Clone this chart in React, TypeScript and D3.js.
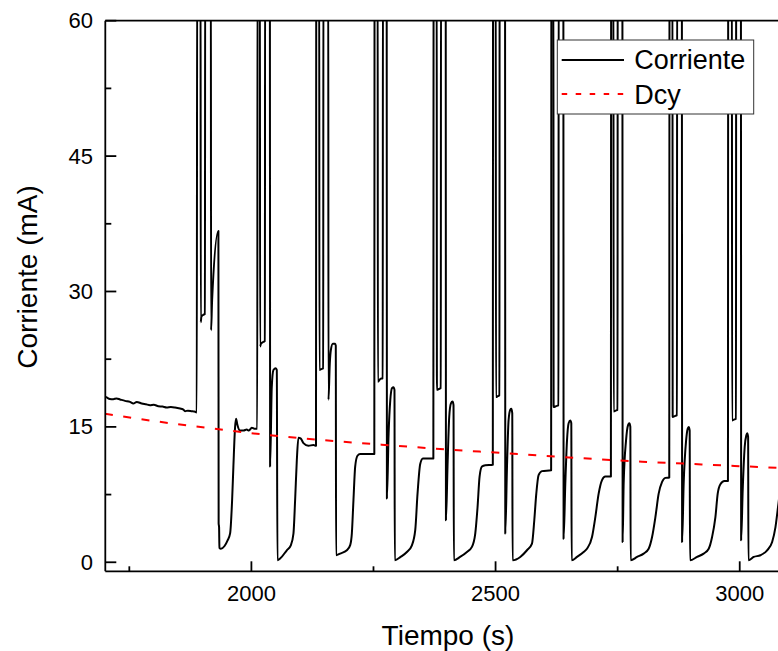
import * as d3 from "d3";
import React, { useRef, useEffect } from "react";

type Pt = [number, number];

// Corriente (mA) vs Tiempo (s); 70 = off the top of the axis
const tramoInicial: Pt[] = [
  [1700, 18.35], [1703.7, 18.26], [1710, 18.1], [1717.2, 18.07], [1724, 18.15], [1730.9, 18.04],
  [1741.2, 17.88], [1751.4, 17.77], [1758.2, 17.59], [1765.2, 17.77], [1775.4, 17.59],
  [1784, 17.5], [1792.4, 17.41], [1800, 17.45], [1809.4, 17.29], [1818, 17.25], [1826.6, 17.15],
  [1835, 17.2], [1843.6, 17.15], [1853.9, 17.04], [1860, 16.95], [1864.1, 16.74],
  [1870, 16.8], [1877.9, 16.74], [1883, 16.7], [1888.1, 16.6],
];

const ciclo1: Pt[] = [
  [1889.0, 70], [1895.8, 70], [1896.3, 26.6], [1897.5, 27.2], [1901, 27.4], [1904.8, 27.5],
  [1905.4, 70], [1916.9, 70], [1917.4, 25.7], [1919.5, 29.0], [1932.4, 36.7], [1932.9, 4.3],
  [1933.8, 3.9], [1934.5, 1.6], [1937.5, 1.5], [1945, 1.8], [1951, 2.4], [1956.4, 3.2],
  [1960.5, 6.9], [1963.1, 10.6], [1966.6, 15.0], [1968.6, 15.9], [1971, 15.3], [1976.8, 14.6],
  [1984, 14.6], [1990.4, 14.7], [1995, 14.6], [2000.8, 14.9], [2006, 14.8], [2012.0, 14.8],
];

const ciclo2: Pt[] = [
  [2012.6, 70], [2017.3, 70], [2017.8, 23.9], [2019.5, 24.2], [2024, 24.4], [2027.6, 24.5],
  [2028.1, 70], [2037.8, 70], [2038.3, 10.6], [2041.7, 19.4], [2045.1, 21.3], [2050, 21.5],
  [2052, 21.3], [2053.3, 0.22], [2058.8, 0.41], [2072.5, 1.33], [2080.7, 1.88], [2086.1, 3.18],
  [2089.5, 6.87], [2093, 11.3], [2096.3, 13.8], [2101.2, 13.7], [2106.6, 13.2], [2116.8, 12.9],
  [2127, 13.0], [2132.3, 12.9],
];

const ciclo3: Pt[] = [
  [2132.8, 70], [2138.8, 70], [2139.3, 21.3], [2143, 21.4], [2147, 21.5], [2147.5, 70],
  [2157.3, 70], [2157.8, 18.0], [2160.5, 22.0], [2162.7, 23.5], [2166.8, 24.2], [2171.5, 24.2],
  [2172.8, 24.0], [2173.4, 0.78], [2181.6, 0.96], [2195.5, 1.33], [2202.3, 1.9], [2205.7, 3.2],
  [2209, 6.9], [2212.5, 10.6], [2217.2, 11.8], [2222.7, 12.0], [2240, 12.0], [2251.7, 12.0],
];

const ciclo4: Pt[] = [
  [2252.2, 70], [2258.5, 70], [2259, 20.0], [2264, 20.3], [2268.9, 20.4], [2269.4, 70],
  [2277, 70], [2277.5, 7.06], [2281, 14.3], [2284.4, 17.96], [2287.9, 19.3], [2291, 19.4],
  [2293, 19.1], [2293.6, 0.22], [2305.5, 0.59], [2318.4, 1.14], [2328.7, 1.88], [2335.5, 3.55],
  [2340.2, 7.6], [2345.7, 10.9], [2351.2, 11.5], [2372.6, 11.5],
];

const ciclo5: Pt[] = [
  [2373.1, 70], [2379.4, 70], [2379.9, 19.1], [2384, 19.2], [2387.8, 19.3], [2388.3, 70],
  [2397.9, 70], [2398.4, 4.66], [2401.6, 10.6], [2405.1, 16.1], [2408.6, 17.6], [2411.9, 17.8],
  [2413.9, 17.4], [2414.6, 0.22], [2427.3, 0.59], [2441.4, 1.14], [2451.6, 1.7], [2458.4, 3.18],
  [2463.1, 6.1], [2467.2, 9.46], [2472.1, 10.6], [2478.9, 10.75], [2494.4, 10.8],
];

const ciclo6: Pt[] = [
  [2494.9, 70], [2500.3, 70], [2500.8, 18.3], [2504.5, 18.4], [2507.9, 18.5], [2508.4, 70],
  [2519.4, 70], [2519.9, 3.18], [2523.4, 10.6], [2526.6, 15.7], [2530.1, 16.9], [2532.2, 17.0],
  [2534.2, 16.5], [2534.8, 0.22], [2550.6, 0.59], [2564.3, 1.33], [2574.6, 2.07], [2579.3, 4.66],
  [2583.4, 7.6], [2588.1, 9.65], [2595.1, 10.1], [2613.8, 10.2],
];

const ciclo7: Pt[] = [
  [2614.3, 70], [2618.4, 70], [2618.9, 17.2], [2624, 17.3], [2628.8, 17.4], [2629.3, 70],
  [2638.8, 70], [2639.3, 2.6], [2642.8, 8.7], [2646.3, 13.5], [2649.6, 15.4], [2653.1, 15.7],
  [2655.1, 15.4], [2655.8, 0.22], [2666.8, 0.59], [2680.3, 1.14], [2687.2, 1.5], [2697.5, 2.8],
  [2704.3, 5.0], [2711.1, 7.6], [2718, 9.1], [2724.8, 9.5], [2736.2, 9.5],
];

const ciclo8: Pt[] = [
  [2736.7, 70], [2741.3, 70], [2741.8, 16.7], [2746, 16.8], [2749.7, 16.9], [2750.2, 70],
  [2759.7, 70], [2760.2, 2.25], [2762.3, 8.7], [2767.2, 13.5], [2771.3, 15.2], [2774, 15.4],
  [2776, 15.0], [2776.6, 0.22], [2789.8, 0.59], [2803.3, 0.96], [2813.5, 1.5], [2820.5, 2.8],
  [2827.3, 5.0], [2834, 7.6], [2841, 8.9], [2847.7, 9.35], [2855.7, 9.4],
];

const ciclo9: Pt[] = [
  [2856.2, 70], [2862.2, 70], [2862.7, 16.1], [2867, 16.2], [2871.4, 16.3], [2871.9, 70],
  [2881.5, 70], [2882, 2.25], [2885.2, 8.7], [2890.2, 13.5], [2893.4, 14.8], [2895.5, 15.0],
  [2897.5, 14.6], [2898.2, 0.22], [2912.7, 0.59], [2926.2, 0.96], [2936.5, 1.5], [2943.4, 2.8],
  [2950.2, 5.0], [2954.9, 7.6], [2960.4, 8.65], [2968.6, 9.0], [2975.9, 9.0],
];

const ciclo10: Pt[] = [
  [2976.4, 70], [2983.9, 70], [2984.4, 15.7], [2988, 15.8], [2992.3, 15.9], [2992.8, 70],
  [3002.4, 70], [3002.9, 2.44], [3006.1, 8.0], [3010.2, 12.8], [3013.7, 14.1], [3015.2, 14.3],
  [3017.2, 13.9], [3017.8, 0.22], [3028.7, 0.59], [3042.4, 0.78], [3056.1, 1.33], [3066.4, 2.25],
  [3073.2, 3.9], [3079.3, 6.5], [3085, 8.8], [3092, 9.4], [3105, 9.5],
];

// Dcy trend line
const dcyTiempo = [1700, 1800, 1900, 2000, 2100, 2200, 2300, 2400, 2500, 2600, 2700, 2800, 2900, 3000, 3105];
const dcyCorriente = [16.45, 15.65, 14.95, 14.3, 13.75, 13.3, 12.9, 12.5, 12.15, 11.8, 11.45, 11.15, 10.9, 10.65, 10.4];

const xTicks = [2000, 2500, 3000];
const xMinor = [1750, 2250, 2750];
const yTicks = [0, 15, 30, 45, 60];
const yMinor = [7.5, 22.5, 37.5, 52.5];

const App = () => {
  const ref = useRef<HTMLDivElement>(null);

  useEffect(() => {
    const width = 778;
    const height = 651;
    const left = 105.3, right = 791, top = 20.7, bottom = 571.3;
    const font = "'Liberation Sans', Arial, sans-serif";

    const x = d3.scaleLinear().domain([1700.8, 3105]).range([left, right]);
    const y = d3.scaleLinear().domain([-1, 60]).range([bottom, top]);

    const corriente: Pt[] = [
      ...tramoInicial, ...ciclo1, ...ciclo2, ...ciclo3, ...ciclo4, ...ciclo5,
      ...ciclo6, ...ciclo7, ...ciclo8, ...ciclo9, ...ciclo10,
    ];
    const dcy: Pt[] = dcyTiempo.map((t, i) => [t, dcyCorriente[i]]);

    const svg = d3.create("svg")
      .attr("width", width)
      .attr("height", height)
      .style("position", "absolute")
      .style("left", "0px")
      .style("top", "0px")
      .style("background", "#fff");

    svg.append("defs").append("clipPath").attr("id", "clip")
      .append("rect")
      .attr("x", left).attr("y", top)
      .attr("width", right - left).attr("height", bottom - top);

    const line = d3.line<Pt>().x(d => x(d[0])).y(d => y(d[1])).curve(d3.curveMonotoneX);

    const plot = svg.append("g").attr("clip-path", "url(#clip)");
    plot.append("path")
      .datum(corriente)
      .attr("d", line)
      .attr("fill", "none")
      .attr("stroke", "#000")
      .attr("stroke-width", 2)
      .attr("stroke-linejoin", "round");

    plot.append("path")
      .datum(dcy)
      .attr("d", d3.line<Pt>().x(d => x(d[0])).y(d => y(d[1])).curve(d3.curveMonotoneX))
      .attr("fill", "none")
      .attr("stroke", "#ff0000")
      .attr("stroke-width", 2)
      .attr("stroke-dasharray", "8,10.5");

    // frame
    const axis = svg.append("g").attr("stroke", "#000").attr("stroke-width", 1.8);
    axis.append("line").attr("x1", left).attr("x2", left).attr("y1", top).attr("y2", bottom);
    axis.append("line").attr("x1", left).attr("x2", right).attr("y1", bottom).attr("y2", bottom);
    axis.append("line").attr("x1", left).attr("x2", right).attr("y1", top).attr("y2", top);
    axis.append("line").attr("x1", right).attr("x2", right).attr("y1", top).attr("y2", bottom);

    // ticks (inward)
    axis.selectAll(".xt").data(xTicks).join("line")
      .attr("x1", d => x(d)).attr("x2", d => x(d)).attr("y1", bottom).attr("y2", bottom - 10);
    axis.selectAll(".xm").data(xMinor).join("line")
      .attr("x1", d => x(d)).attr("x2", d => x(d)).attr("y1", bottom).attr("y2", bottom - 5);
    axis.selectAll(".yt").data(yTicks).join("line")
      .attr("x1", left).attr("x2", left + 11).attr("y1", d => y(d)).attr("y2", d => y(d));
    axis.selectAll(".ym").data(yMinor).join("line")
      .attr("x1", left).attr("x2", left + 6).attr("y1", d => y(d)).attr("y2", d => y(d));

    const labels = svg.append("g").attr("font-family", font).attr("fill", "#000");
    labels.selectAll(".xl").data(xTicks).join("text")
      .attr("x", d => x(d)).attr("y", 601)
      .attr("text-anchor", "middle")
      .attr("font-size", 22)
      .text(d => d);
    labels.selectAll(".yl").data(yTicks).join("text")
      .attr("x", 93).attr("y", d => y(d) + 7.5)
      .attr("text-anchor", "end")
      .attr("font-size", 22)
      .text(d => d);

    labels.append("text")
      .attr("x", 448).attr("y", 645)
      .attr("text-anchor", "middle")
      .attr("font-size", 28)
      .text("Tiempo (s)");
    labels.append("text")
      .attr("transform", "translate(37,277) rotate(-90)")
      .attr("text-anchor", "middle")
      .attr("font-size", 28)
      .text("Corriente (mA)");

    // legend
    const lg = svg.append("g");
    lg.append("rect")
      .attr("x", 557.3).attr("y", 40)
      .attr("width", 196.4).attr("height", 74)
      .attr("fill", "#fff")
      .attr("stroke", "#333")
      .attr("stroke-width", 1);
    lg.append("line")
      .attr("x1", 561.7).attr("x2", 624).attr("y1", 60).attr("y2", 60)
      .attr("stroke", "#000").attr("stroke-width", 2);
    lg.append("line")
      .attr("x1", 561.7).attr("x2", 624).attr("y1", 94).attr("y2", 94)
      .attr("stroke", "#ff0000").attr("stroke-width", 2)
      .attr("stroke-dasharray", "5.5,8.5");
    lg.append("text")
      .attr("x", 634.3).attr("y", 69.3)
      .attr("font-family", font).attr("font-size", 27)
      .text("Corriente");
    lg.append("text")
      .attr("x", 634.3).attr("y", 104)
      .attr("font-family", font).attr("font-size", 27)
      .text("Dcy");

    if (ref.current) {
      ref.current.innerHTML = "";
      ref.current.appendChild(svg.node()!);
    }
  }, []);

  return <div ref={ref}></div>;
};

export default App;
